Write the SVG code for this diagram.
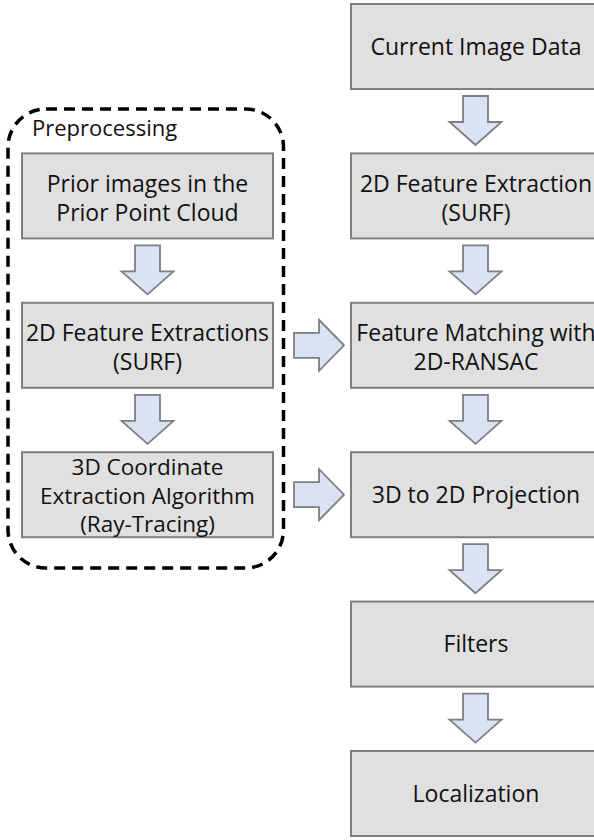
<svg xmlns="http://www.w3.org/2000/svg" width="594" height="840" viewBox="0 0 594 840">
<style>
.box{fill:#e0e0e0;stroke:#7f7f7f;stroke-width:2}
.arr{fill:#dae3f3;stroke:#7f7f7f;stroke-width:1.8;stroke-linejoin:miter}
.t{font-family:"Open Sans","Noto Sans","Liberation Sans",sans-serif;font-size:23px;fill:#111;text-anchor:middle}
.t3{font-size:22.5px}
.lab{font-family:"Open Sans","Noto Sans","Liberation Sans",sans-serif;font-size:22px;fill:#111}
.dash{fill:none;stroke:#000;stroke-width:3.5;stroke-dasharray:11 7}
</style>
<rect width="594" height="840" fill="#fff"/>
<g id="preprocessing">
<rect class="dash" x="8" y="109" width="275.5" height="459" rx="38"/>
<text class="lab" x="32" y="136">Preprocessing</text>
</g>
<g id="prior-images">
<rect class="box" x="22" y="153.4" width="251" height="85"/>
<text class="t" x="147.5" y="191.5">Prior images in the</text>
<text class="t" x="147.5" y="220.5">Prior Point Cloud</text>
</g>
<g id="feature-extractions">
<rect class="box" x="22" y="302.8" width="251" height="85"/>
<text class="t" x="147.5" y="340.5">2D Feature Extractions</text>
<text class="t" x="147.5" y="369.5">(SURF)</text>
</g>
<g id="coordinate-extraction">
<rect class="box" x="22" y="452.2" width="251" height="85"/>
<text class="t t3" x="147.5" y="475">3D Coordinate</text>
<text class="t t3" x="147.5" y="503.5">Extraction Algorithm</text>
<text class="t t3" x="147.5" y="532">(Ray-Tracing)</text>
</g>
<g id="current-image">
<rect class="box" x="351" y="4" width="250" height="85"/>
<text class="t" x="476" y="55">Current Image Data</text>
</g>
<g id="feature-extraction">
<rect class="box" x="351" y="153.4" width="250" height="85"/>
<text class="t" x="476" y="191.5">2D Feature Extraction</text>
<text class="t" x="476" y="220.5">(SURF)</text>
</g>
<g id="feature-matching">
<rect class="box" x="351" y="302.8" width="250" height="85"/>
<text class="t" x="476" y="340.5">Feature Matching with</text>
<text class="t" x="476" y="369.5">2D-RANSAC</text>
</g>
<g id="projection">
<rect class="box" x="351" y="452.2" width="250" height="85"/>
<text class="t" x="476" y="503">3D to 2D Projection</text>
</g>
<g id="filters">
<rect class="box" x="351" y="601.6" width="250" height="85"/>
<text class="t" x="476" y="652">Filters</text>
</g>
<g id="localization">
<rect class="box" x="351" y="751" width="250" height="85"/>
<text class="t" x="476" y="802">Localization</text>
</g>
<g id="connectors">
<defs>
<path id="down" d="M-12.5,0 H12.5 V26 H26 L0,49 L-26,26 H-12.5 Z"/>
<path id="right" d="M0,-12.5 V12.5 H25 V25.5 L50,0 L25,-25.5 V-12.5 Z"/>
</defs>
<use href="#down" class="arr" x="475.5" y="96"/>
<use href="#down" class="arr" x="475.5" y="245.4"/>
<use href="#down" class="arr" x="475.5" y="394.8"/>
<use href="#down" class="arr" x="475.5" y="544.2"/>
<use href="#down" class="arr" x="475.5" y="693.6"/>
<use href="#down" class="arr" x="147.5" y="245.4"/>
<use href="#down" class="arr" x="147.5" y="394.8"/>
<use href="#right" class="arr" x="294" y="345.3"/>
<use href="#right" class="arr" x="294" y="494.7"/>
</g>
</svg>
